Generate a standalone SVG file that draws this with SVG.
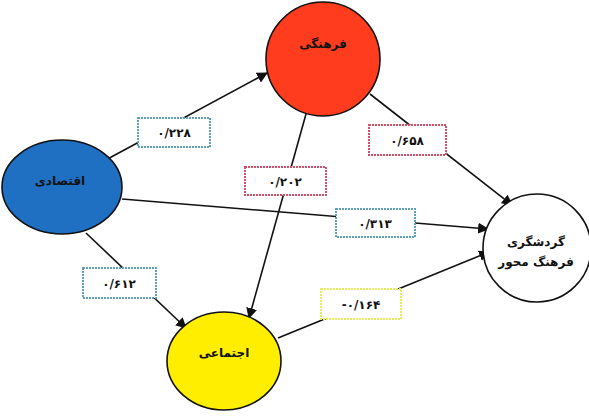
<svg xmlns="http://www.w3.org/2000/svg" width="589" height="416" viewBox="0 0 589 416">
<style>
.node{stroke:#111;stroke-width:1.6}
.edge{stroke:#111;stroke-width:1.6;fill:none}
.lbl{fill:#fff;stroke-width:2;stroke-dasharray:2 1}
.blue{stroke:#5fa0b8}
.red{stroke:#d0506a}
.yel{stroke:#e6ec60}
text{font-family:"DejaVu Sans","Liberation Sans",sans-serif;font-size:12px;text-anchor:middle;fill:#111}
.nt{font-weight:bold;font-size:12px}
.num{font-size:12px;font-weight:bold}
</style>
<defs>
<marker id="ah" viewBox="0 0 10 10" refX="9" refY="5" markerWidth="11" markerHeight="11" markerUnits="userSpaceOnUse" orient="auto"><path d="M0,0 L10,5 L0,10 z" fill="#111"/></marker>
</defs>
<rect width="589" height="416" fill="#fff"/>
<g id="connectors">
<line class="edge" x1="102" y1="162" x2="267" y2="73" marker-end="url(#ah)"/>
<line class="edge" x1="370" y1="94" x2="512" y2="205" marker-end="url(#ah)"/>
<line class="edge" x1="306" y1="114" x2="249" y2="318" marker-end="url(#ah)"/>
<line class="edge" x1="122" y1="199" x2="488" y2="229" marker-end="url(#ah)"/>
<line class="edge" x1="86" y1="233" x2="186" y2="328" marker-end="url(#ah)"/>
<line class="edge" x1="278" y1="338" x2="489" y2="252" marker-end="url(#ah)"/>
</g>
<g id="label-228"><rect class="lbl blue" x="138" y="118" width="72" height="29"/><text class="num" x="174" y="137">۰/۲۲۸</text></g>
<g id="label-658"><rect class="lbl red" x="369" y="125" width="77" height="30"/><text class="num" x="407" y="145">۰/۶۵۸</text></g>
<g id="label-202"><rect class="lbl red" x="245" y="167" width="81" height="28"/><text class="num" x="285" y="186">۰/۲۰۲</text></g>
<g id="label-313"><rect class="lbl blue" x="336" y="209" width="79" height="28"/><text class="num" x="375" y="228">۰/۳۱۳</text></g>
<g id="label-612"><rect class="lbl blue" x="83" y="268" width="73" height="30"/><text class="num" x="119" y="288">۰/۶۱۲</text></g>
<g id="label-164"><rect class="lbl yel" x="321" y="289" width="80" height="30"/><text class="num" x="361" y="309">-۰/۱۶۴</text></g>
<g id="node-farhangi"><circle class="node" cx="323" cy="59" r="57" fill="#ff3c1e"/><text class="nt" x="323" y="48">فرهنگی</text></g>
<g id="node-eghtesadi"><ellipse class="node" cx="62" cy="187" rx="60" ry="47" fill="#1f6fc2"/><text class="nt" x="60" y="185">اقتصادی</text></g>
<g id="node-ejtemaei"><ellipse class="node" cx="224" cy="361" rx="57" ry="49" fill="#ffee00"/><text class="nt" x="224" y="357">اجتماعی</text></g>
<g id="node-gardeshgari"><circle class="node" cx="537" cy="248" r="54" fill="#fff"/><text class="nt" x="536" y="246">گردشگری</text><text class="nt" x="536" y="266">فرهنگ محور</text></g>
</svg>
